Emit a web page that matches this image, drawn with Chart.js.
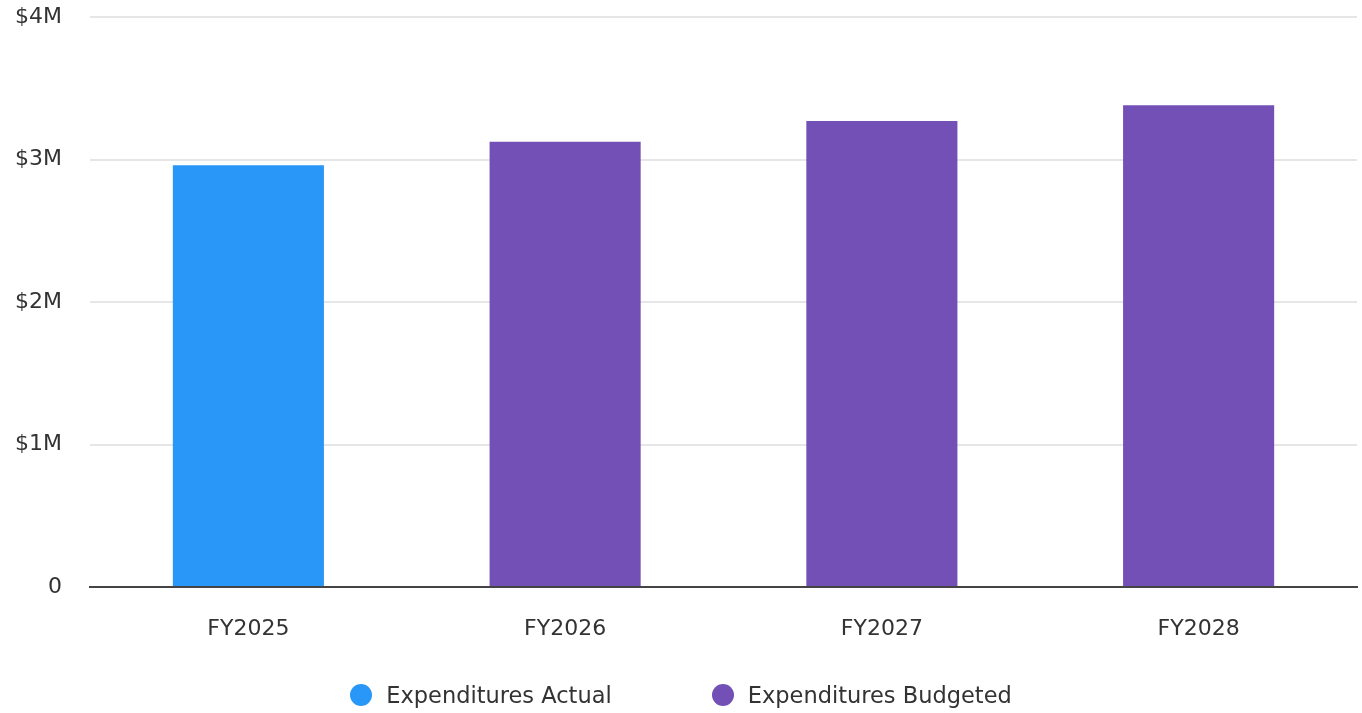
<!DOCTYPE html>
<html>
<head>
<meta charset="utf-8">
<script src="https://cdn.jsdelivr.net/npm/chart.js@4/dist/chart.umd.min.js"></script>
<style>
  html, body { margin: 0; padding: 0; background: #fff; }
  #wrap { position: relative; width: 1362px; height: 713px; }
  #legend {
    position: absolute; left: 0; top: 682px; width: 1362px;
    display: flex; justify-content: center; gap: 100px;
    font-family: 'DejaVu Sans', sans-serif; font-size: 22.5px; color: #333;
  }
  #legend .item { display: flex; align-items: center; line-height: 26px; }
  #legend .dot { width: 22px; height: 22px; border-radius: 50%; margin-right: 14px; }
</style>
</head>
<body>
<div id="wrap">
  <canvas id="chart"></canvas>
  <div id="legend"></div>
</div>
<script>
// Data
const categories = ['FY2025', 'FY2026', 'FY2027', 'FY2028'];
const actualValues = [2960000, null, null, null];
const budgetedValues = [null, 3125000, 3270000, 3380000];
const yTicks = [0, 1000000, 2000000, 3000000, 4000000];

const BLUE = '#2997f8';
const PURPLE = '#7350b5';
const FONT = { family: 'DejaVu Sans', size: 22 };

function fmtMoney(v) {
    if (v === 0) return '0';
    return '$' + (v / 1000000) + 'M';
}

const ctx = document.getElementById('chart').getContext('2d');
const chart = new Chart(ctx, {
    type: 'bar',
    data: {
        labels: categories,
        datasets: [
            { label: 'Expenditures Actual', data: actualValues, backgroundColor: BLUE, borderWidth: 0 },
            { label: 'Expenditures Budgeted', data: budgetedValues, backgroundColor: PURPLE, borderWidth: 0 }
        ]
    },
    options: {
        responsive: true,
        maintainAspectRatio: false,
        animation: false,
        layout: { padding: { top: 17, right: 5, left: 0, bottom: 72 } },
        datasets: {
            bar: { grouped: false, barPercentage: 0.477, categoryPercentage: 1 }
        },
        plugins: {
            legend: { display: false },
            tooltip: { enabled: false }
        },
        scales: {
            x: {
                grid: { display: false, drawTicks: false },
                border: { display: true, color: '#444', width: 2 },
                ticks: { color: '#333', padding: 29, font: FONT },
                afterFit: axis => {
                    axis.height = 54;
                    axis.paddingLeft = 0;
                    axis.paddingRight = 0;
                }
            },
            y: {
                min: 0,
                max: 4000000,
                afterBuildTicks: axis => { axis.ticks = yTicks.map(v => ({ value: v })); },
                grid: { color: '#e6e6e6', lineWidth: 2, drawTicks: false },
                border: { display: false },
                ticks: { color: '#333', padding: 28, font: FONT, callback: v => fmtMoney(v) },
                afterFit: axis => {
                    axis.width = 90;
                    axis.paddingTop = 0;
                    axis.paddingBottom = 0;
                }
            }
        }
    }
});

// HTML legend built from the datasets
const legendEl = document.getElementById('legend');
chart.data.datasets.forEach(ds => {
    const item = document.createElement('div');
    item.className = 'item';
    item.innerHTML = `<span class="dot" style="background:${ds.backgroundColor}"></span><span>${ds.label}</span>`;
    legendEl.appendChild(item);
});
</script>
</body>
</html>
